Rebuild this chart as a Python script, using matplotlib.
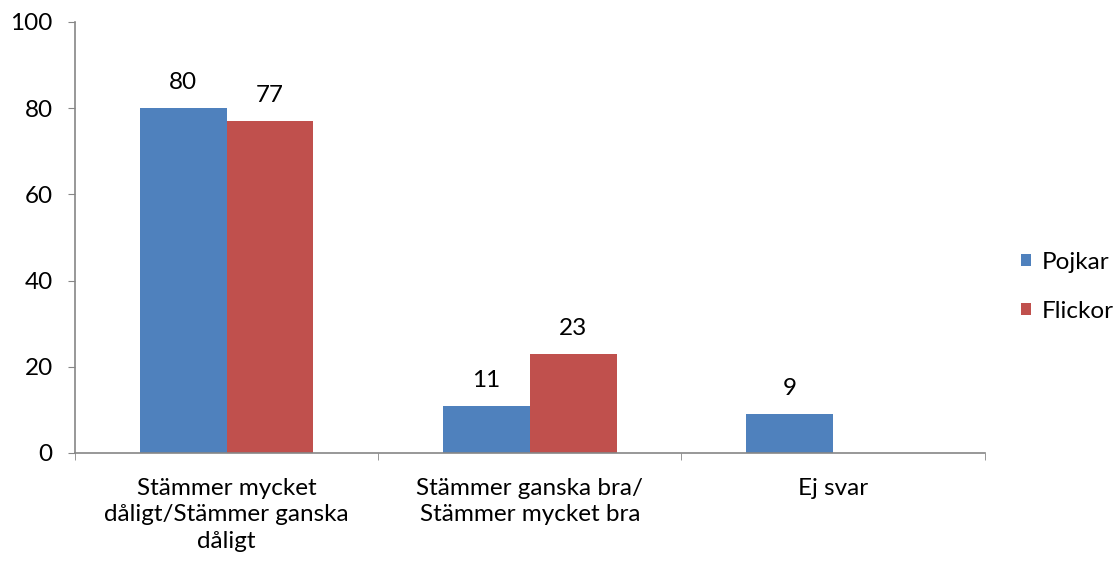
import matplotlib
matplotlib.use("Agg")
import matplotlib.pyplot as plt
import numpy as np

categories = ["Stämmer mycket\ndåligt/Stämmer ganska\ndåligt",
              "Stämmer ganska bra/\nStämmer mycket bra",
              "Ej svar"]
pojkar = [80, 11, 9]
flickor = [77, 23, 0]

plt.rcParams['font.family'] = ['Lato', 'DejaVu Sans']
FS = 17.5

fig = plt.figure(figsize=(11.19, 5.62), dpi=100)
ax = fig.add_axes([0.067, 0.194, 0.813, 0.767])

x = np.arange(len(categories))
w = 0.286
b1 = ax.bar(x - w / 2, pojkar, w, color='#4F81BD', label='Pojkar')
b2 = ax.bar(x + w / 2, flickor, w, color='#C0504D', label='Flickor')

for bars, vals in ((b1, pojkar), (b2, flickor)):
    for r, v in zip(bars, vals):
        if v:
            ax.annotate(str(v), (r.get_x() + r.get_width() / 2, v),
                        xytext=(0, 13.5), textcoords='offset points',
                        ha='center', va='baseline', fontsize=FS)

ax.set_xlim(-0.5, 2.5)
ax.set_ylim(0, 100)
ax.set_yticks(range(0, 101, 20))
ax.tick_params(axis='y', labelsize=FS, length=5, color='#868686', pad=11)

ax.set_xticks(x)
ax.set_xticklabels(categories, fontsize=FS, linespacing=1.32)
ax.tick_params(axis='x', length=0, pad=18)
ax.set_xticks([-0.5, 0.5, 1.5, 2.5], minor=True)
ax.tick_params(axis='x', which='minor', length=5, color='#868686')

for s in ['top', 'right']:
    ax.spines[s].set_visible(False)
for s in ['left', 'bottom']:
    ax.spines[s].set_color('#868686')
    ax.spines[s].set_linewidth(1.2)

fig.legend(handles=[b1, b2], loc='center left', bbox_to_anchor=(0.912, 0.49),
           frameon=False, fontsize=FS, handlelength=0.42, handleheight=0.42,
           handletextpad=0.45, labelspacing=1.15, borderpad=0, borderaxespad=0)

fig.savefig('out.png', dpi=100)
